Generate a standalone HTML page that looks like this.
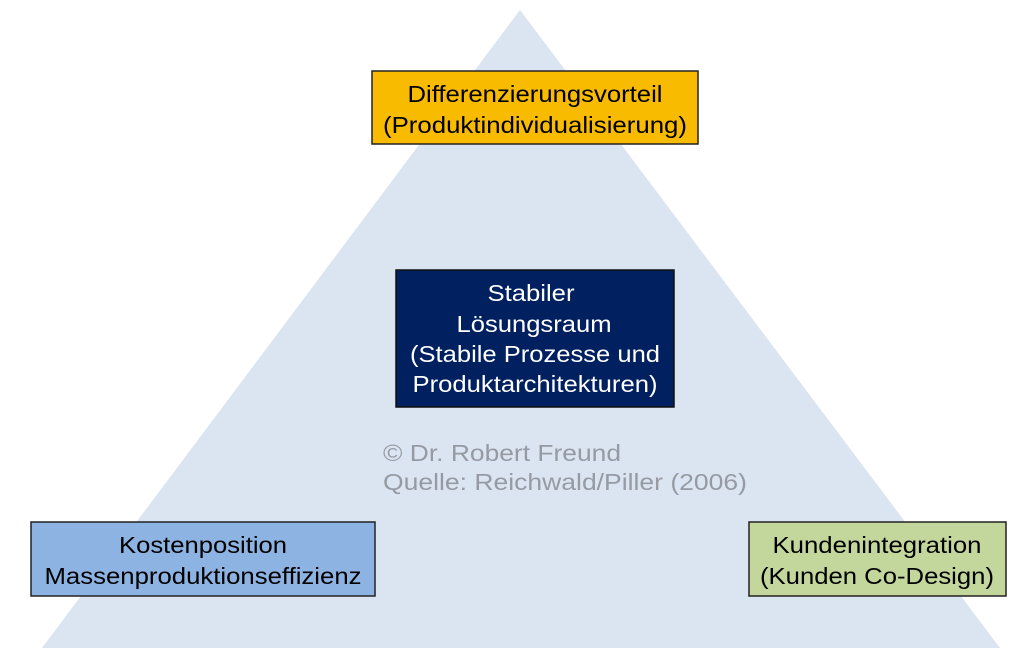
<!DOCTYPE html>
<html><head><meta charset="utf-8"><style>
html,body{margin:0;padding:0;background:#fff;}
svg{display:block;}
text{font-family:"Liberation Sans",sans-serif;}
</style></head><body>
<svg width="1024" height="659" viewBox="0 0 1024 659" xmlns="http://www.w3.org/2000/svg">
<polygon points="520,10 1000,648 42,648" fill="#dbe4f1"/>
<rect x="372" y="71" width="326" height="73" fill="#f8bb00" stroke="#222" stroke-width="1.5"/>
<text x="535" y="102" font-size="23" text-anchor="middle" fill="#000" textLength="255" lengthAdjust="spacingAndGlyphs">Differenzierungsvorteil</text>
<text x="535" y="133" font-size="23" text-anchor="middle" fill="#000" textLength="304" lengthAdjust="spacingAndGlyphs">(Produktindividualisierung)</text>
<rect x="396" y="270" width="278" height="137" fill="#002060" stroke="#111" stroke-width="1.5"/>
<text x="531" y="301" font-size="23" text-anchor="middle" fill="#fff" textLength="87" lengthAdjust="spacingAndGlyphs">Stabiler</text>
<text x="534" y="332" font-size="23" text-anchor="middle" fill="#fff" textLength="155" lengthAdjust="spacingAndGlyphs">Lösungsraum</text>
<text x="535" y="362" font-size="23" text-anchor="middle" fill="#fff" textLength="250" lengthAdjust="spacingAndGlyphs">(Stabile Prozesse und</text>
<text x="535" y="392" font-size="23" text-anchor="middle" fill="#fff" textLength="245" lengthAdjust="spacingAndGlyphs">Produktarchitekturen)</text>
<text x="383" y="461" font-size="23" fill="#969ba3" textLength="238" lengthAdjust="spacingAndGlyphs">© Dr. Robert Freund</text>
<text x="383" y="490" font-size="23" fill="#969ba3" textLength="364" lengthAdjust="spacingAndGlyphs">Quelle: Reichwald/Piller (2006)</text>
<rect x="31" y="522" width="344" height="74" fill="#8db3e2" stroke="#222" stroke-width="1.5"/>
<text x="203" y="553" font-size="23" text-anchor="middle" fill="#000" textLength="168" lengthAdjust="spacingAndGlyphs">Kostenposition</text>
<text x="203" y="584" font-size="23" text-anchor="middle" fill="#000" textLength="317" lengthAdjust="spacingAndGlyphs">Massenproduktionseffizienz</text>
<rect x="749" y="522" width="257" height="74" fill="#c3d69b" stroke="#222" stroke-width="1.5"/>
<text x="877" y="553" font-size="23" text-anchor="middle" fill="#000" textLength="209" lengthAdjust="spacingAndGlyphs">Kundenintegration</text>
<text x="877" y="584" font-size="23" text-anchor="middle" fill="#000" textLength="234" lengthAdjust="spacingAndGlyphs">(Kunden Co-Design)</text>
</svg>
</body></html>
